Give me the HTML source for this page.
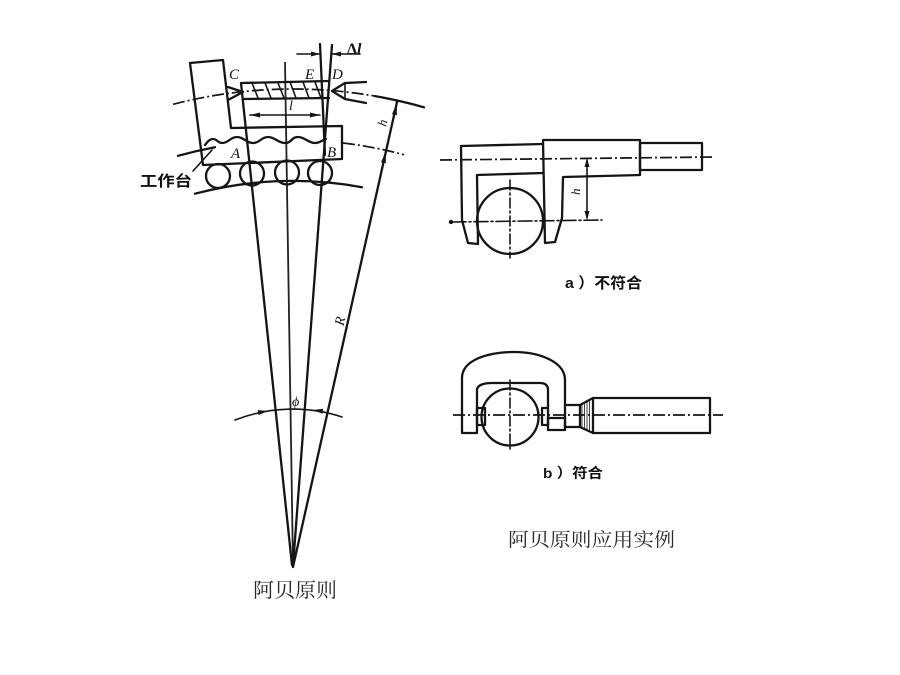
<!DOCTYPE html>
<html>
<head>
<meta charset="utf-8">
<style>
  html,body{margin:0;padding:0;background:#fff;}
  svg{display:block;}
  .s{fill:none;stroke:#151515;stroke-width:2.3;stroke-linecap:round;stroke-linejoin:round;}
  .t{fill:none;stroke:#151515;stroke-width:1.6;stroke-linecap:round;}
  .dd{fill:none;stroke:#151515;stroke-width:1.7;stroke-dasharray:12 3 2 3;}
  .lbl{font-family:"Liberation Serif",serif;font-style:italic;fill:#111;}
  .cjk{font-family:"Liberation Sans","Noto Sans CJK SC",sans-serif;fill:#111;font-weight:bold;}
  .song{font-family:"Liberation Serif","Noto Serif CJK SC",serif;fill:#2a2a2a;}
</style>
</head>
<body>
<svg width="900" height="675" viewBox="0 0 900 675" xmlns="http://www.w3.org/2000/svg">
  <!-- ===== Left: Abbe principle ===== -->
  <line class="s" x1="241" y1="83" x2="292" y2="565"/>
  <line x1="285" y1="62" x2="293" y2="566" stroke="#222" stroke-width="1.8"/>
  <line class="s" x1="332" y1="45" x2="293" y2="566"/>
  <line class="s" x1="320" y1="44" x2="325" y2="155"/>
  <line class="s" x1="397" y1="102" x2="293" y2="567"/>

  <!-- top arc r=478 -->
  <path class="dd" d="M173,104.3 A478,478 0 0 1 375,96.1"/>
  <path class="s" d="M375,96.1 A478,478 0 0 1 424,107.3"/>
  <!-- middle arc r=427 -->
  <path class="s" d="M178,155.8 A427,427 0 0 1 215,147.2"/>
  <path class="dd" d="M343,143 A427,427 0 0 1 404,154.7"/>
  <!-- bottom arc r=386 -->
  <path class="s" d="M195,193.7 A386,386 0 0 1 362,187.2"/>

  <!-- carriage / column -->
  <path class="s" d="M190,63 L223,60 L231,128 L342,126 L342,159 L203,165 Z"/>

  <!-- scale -->
  <line class="s" x1="242" y1="83" x2="329" y2="81"/>
  <line class="s" x1="243" y1="99" x2="329" y2="98"/>
  <g class="t">
    <line x1="252" y1="83" x2="258" y2="98"/>
    <line x1="265" y1="83" x2="271" y2="98"/>
    <line x1="278" y1="83" x2="284" y2="98"/>
    <line x1="290" y1="82" x2="296" y2="98"/>
    <line x1="303" y1="82" x2="309" y2="98"/>
    <line x1="315" y1="82" x2="321" y2="98"/>
  </g>

  <!-- C pointer -->
  <path class="s" d="M228,87 L243,92 L228,100"/>
  <!-- D pointer -->
  <path class="s" d="M366,82 L345,83 L332,91 L345,99 L366,103"/>
  <line class="t" x1="345" y1="84" x2="345" y2="98"/>

  <!-- l dimension -->
  <line class="t" x1="250" y1="115" x2="320" y2="115"/>
  <polygon points="250,115 260,112.5 260,117.5" fill="#151515"/>
  <polygon points="320,115 310,112.5 310,117.5" fill="#151515"/>
  <text class="lbl" x="289" y="110" font-size="14">l</text>

  <!-- guideway wave -->
  <path class="s" d="M205,145 C208,141 210,139 213,139 C217,139 218,143 222,143 C229,143 230,137 237,137 C244,137 246,143 253,143 C260,143 261,137 268,137 C275,137 278,143 285,143 C292,143 291,137 298,137 C305,137 308,143 315,143 C320,143 322,140 326,139"/>

  <!-- rollers -->
  <g class="s">
    <circle cx="218" cy="176" r="12"/>
    <circle cx="252" cy="173.5" r="12"/>
    <circle cx="287" cy="172.5" r="12"/>
    <circle cx="320" cy="173" r="12"/>
  </g>

  <!-- Δl -->
  <line class="t" x1="297" y1="54" x2="320" y2="54"/>
  <polygon points="320,54 311,51.5 311,56.5" fill="#151515"/>
  <line class="t" x1="332" y1="54" x2="360" y2="54"/>
  <polygon points="332,54 341,51.5 341,56.5" fill="#151515"/>
  <text x="347" y="54" font-size="16" font-family="Liberation Serif,serif" font-weight="bold" fill="#111">Δ<tspan font-style="italic">l</tspan></text>

  <!-- letters -->
  <text class="lbl" x="229" y="79" font-size="15">C</text>
  <text class="lbl" x="305" y="79" font-size="15">E</text>
  <text class="lbl" x="332" y="79" font-size="15">D</text>
  <text class="lbl" x="231" y="158" font-size="15">A</text>
  <text class="lbl" x="327" y="157" font-size="15">B</text>

  <!-- h dimension on R line -->
  <polygon points="397,103 396.8,115.2 392.0,114.2" fill="#151515"/>
  <polygon points="386,151 385.8,163.2 381.0,162.2" fill="#151515"/>
  <text class="lbl" x="378" y="127" font-size="13" transform="rotate(-77 382 122)">h</text>
  <text class="lbl" x="333" y="325" font-size="14" transform="rotate(-77 339 319)">R</text>

  <!-- 工作台 -->
  <line class="t" x1="193" y1="171" x2="212" y2="150"/>
  <text class="cjk" x="140" y="186" font-size="15" textLength="52" lengthAdjust="spacingAndGlyphs">工作台</text>

  <!-- phi arc -->
  <path class="t" d="M235,420 A158,158 0 0 1 342,417"/>
  <polygon points="268,411 258.5,415.1 257.7,410.1" fill="#151515"/>
  <polygon points="313,410 323.2,408.8 322.6,413.8" fill="#151515"/>
  <text class="lbl" x="292" y="406" font-size="14">ϕ</text>

  <text class="song" x="253" y="597" font-size="20" textLength="84" lengthAdjust="spacingAndGlyphs">阿贝原则</text>

  <!-- ===== a) caliper ===== -->
  <path class="s" d="M543,144 L461,146 L462,220 L468,243 L478,244 L477,175 L543,173"/>
  <path class="s" d="M543,140 L640,140 L640,175 L563,177 L562,218 L555,242 L545,243 Z"/>
  <rect class="s" x="640" y="143" width="62" height="27"/>
  <path class="dd" d="M440,160 L715,157"/>
  <circle class="s" cx="510" cy="221" r="33"/>
  <line class="t" x1="510" y1="180" x2="510" y2="258" stroke-dasharray="10 3 2 3"/>
  <line class="t" x1="452" y1="222" x2="602" y2="220" stroke-dasharray="14 3 2 3"/>
  <circle cx="451" cy="222" r="2.2" fill="#151515"/>
  <line class="t" x1="587" y1="160" x2="587" y2="218"/>
  <polygon points="587,158 584.5,167 589.5,167" fill="#151515"/>
  <polygon points="587,220 584.5,211 589.5,211" fill="#151515"/>
  <text class="lbl" x="571" y="194" font-size="13" transform="rotate(-90 576 190)">h</text>
  <text class="cjk" x="565" y="288" font-size="15" textLength="77" lengthAdjust="spacingAndGlyphs">a ）不符合</text>

  <!-- ===== b) micrometer ===== -->
  <path class="s" d="M565,405 L565,380 C565,362 540,352 514,352 C488,352 462,360 462,378 L462,433 L477,433 L477,390 C477,385 484,383 492,383 L540,383 C546,383 548,386 548,390 L548,408"/>
  <rect class="s" x="477" y="408" width="8" height="17"/>
  <rect class="s" x="542" y="408" width="6" height="17"/>
  <rect class="s" x="548" y="418" width="17" height="12"/>
  <rect class="s" x="565" y="405" width="15" height="22"/>
  <path class="s" d="M580,405 L593,398 L710,398 L710,433 L593,433 L580,427"/>
  <g stroke="#151515" stroke-width="0.8">
    <line x1="582" y1="404" x2="582" y2="428"/>
    <line x1="584.5" y1="403" x2="584.5" y2="429"/>
    <line x1="587" y1="401.5" x2="587" y2="430.5"/>
    <line x1="589.5" y1="400" x2="589.5" y2="431.5"/>
  </g>
  <line class="s" x1="593" y1="398" x2="593" y2="433"/>
  <circle class="s" cx="510" cy="417" r="28.5"/>
  <path class="dd" d="M453,415 L723,415"/>
  <line class="t" x1="510" y1="380" x2="510" y2="452" stroke-dasharray="10 3 2 3"/>
  <text class="cjk" x="543" y="478" font-size="14" textLength="60" lengthAdjust="spacingAndGlyphs">b ）符合</text>

  <text class="song" x="508" y="546" font-size="19" textLength="167" lengthAdjust="spacingAndGlyphs">阿贝原则应用实例</text>
</svg>
</body>
</html>
